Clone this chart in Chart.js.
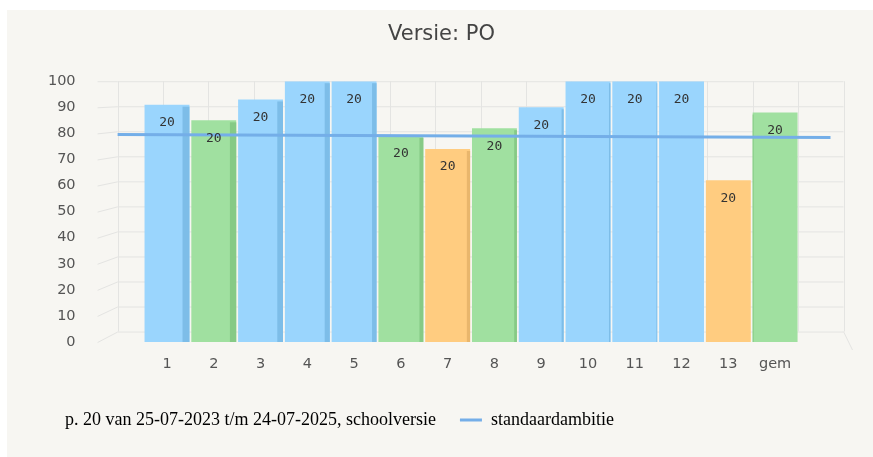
<!DOCTYPE html>
<html>
<head>
<meta charset="utf-8">
<script src="https://cdn.jsdelivr.net/npm/chart.js@4.4.1/dist/chart.umd.min.js"></script>
<style>
  html, body { margin: 0; padding: 0; background: #ffffff; }
  #wrap { width: 873px; height: 457px; }
</style>
</head>
<body>
<div id="wrap"><canvas id="grafiek" width="873" height="457"></canvas></div>
<script>
// ====== DATA ======
const categorieen = ["1", "2", "3", "4", "5", "6", "7", "8", "9", "10", "11", "12", "13", "gem"];
const scores = [91, 85, 93, 100, 100, 79, 74, 82, 90, 100, 100, 100, 62, 88];
const aantallen = [20, 20, 20, 20, 20, 20, 20, 20, 20, 20, 20, 20, 20, 20];
const kleurKlasse = ["blauw", "groen", "blauw", "blauw", "blauw", "groen", "oranje", "groen", "blauw", "blauw", "blauw", "blauw", "oranje", "groen"];
const ambitie = 79;
const legendaTekst = "p. 20 van 25-07-2023 t/m 24-07-2025, schoolversie";
const ambitieTekst = "standaardambitie";

// ====== STIJL ======
const KLEUR = { blauw: "#9ad5fd", groen: "#a0e0a0", oranje: "#ffcc80" };
const ZIJKANT = { blauw: "#7dbde8", groen: "#86ca86", oranje: "#e9b66c" };
const LIJN = "#74aee8";
const RASTER = "#e4e4e2";
const TICKFONT = { family: "DejaVu Sans", size: 14.5 };

// achtergrond van de kaart
const achtergrond = {
  id: "achtergrond",
  beforeDraw(chart) {
    const c = chart.ctx;
    c.save();
    c.fillStyle = "#f7f6f2";
    c.fillRect(7, 10, chart.width - 7, chart.height - 10);
    c.restore();
  }
};

// 3D-achtige wanden achter de staven
const wanden = {
  id: "wanden",
  beforeDatasetsDraw(chart) {
    const c = chart.ctx, ca = chart.chartArea, y = chart.scales.y;
    const wl = ca.left - 26, wr = ca.right + 45;
    const top = y.getPixelForValue(100);
    const wy = v => top + (y.getPixelForValue(v) - top) * 0.96;
    c.save();
    c.strokeStyle = RASTER;
    c.lineWidth = 1;
    c.beginPath();
    for (let v = 0; v <= 100; v += 10) {
      c.moveTo(wl - 20, y.getPixelForValue(v) + 0.5);
      c.lineTo(wl, wy(v) + 0.5);
      c.lineTo(wr, wy(v) + 0.5);
    }
    const n = categorieen.length + 2;
    for (let i = 0; i <= n; i++) {
      const x = Math.round(wl + (wr - wl) * i / n) + 0.5;
      c.moveTo(x, wy(100));
      c.lineTo(x, wy(0));
    }
    c.moveTo(wr, wy(0));
    c.lineTo(wr + 9, y.getPixelForValue(0) + 8);
    c.stroke();
    c.restore();
  }
};

// zijvlakken, aantallen en ambitielijn
const opmaak = {
  id: "opmaak",
  afterDatasetsDraw(chart) {
    const c = chart.ctx, ca = chart.chartArea, y = chart.scales.y;
    const meta = chart.getDatasetMeta(0);
    c.save();
    meta.data.forEach((bar, i) => {
      const w = bar.width, l = bar.x - w / 2, r = bar.x + w / 2;
      const zij = (700 - bar.x) * 0.013;
      c.fillStyle = ZIJKANT[kleurKlasse[i]];
      if (zij > 0.5) c.fillRect(r - zij, bar.y + 2, zij, bar.base - bar.y - 2);
      else if (zij < -0.5) c.fillRect(l, bar.y + 2, -zij, bar.base - bar.y - 2);
    });
    // ambitielijn
    const ya = y.getPixelForValue(ambitie);
    c.strokeStyle = LIJN;
    c.lineWidth = 3;
    c.beginPath();
    c.moveTo(ca.left - 26, ya - 1.5);
    c.lineTo(ca.right + 32, ya + 1.5);
    c.stroke();
    // aantallen
    c.fillStyle = "#333333";
    c.font = '13px "DejaVu Sans Mono"';
    c.textAlign = "center";
    c.textBaseline = "middle";
    meta.data.forEach((bar, i) => {
      c.fillText(String(aantallen[i]), bar.x, bar.y + 18);
    });
    c.restore();
  }
};

new Chart(document.getElementById("grafiek"), {
  type: "bar",
  data: {
    labels: categorieen,
    datasets: [
      {
        label: legendaTekst,
        data: scores,
        backgroundColor: kleurKlasse.map(k => KLEUR[k]),
        borderWidth: 0,
        barPercentage: 0.96,
        categoryPercentage: 1
      },
      {
        type: "line",
        label: ambitieTekst,
        data: categorieen.map(() => ambitie),
        showLine: false,
        pointRadius: 0,
        borderColor: LIJN,
        backgroundColor: LIJN
      }
    ]
  },
  options: {
    responsive: false,
    animation: false,
    layout: { padding: { left: 10, right: 0, top: 0, bottom: 18 } },
    plugins: {
      title: {
        display: true,
        text: "Versie: PO",
        color: "#444444",
        font: { family: "DejaVu Sans", size: 21, weight: "normal" },
        padding: { top: 22, bottom: 34 }
      },
      legend: {
        position: "bottom",
        align: "start",
        labels: {
          color: "#333333",
          font: { family: "Liberation Serif", size: 18 },
          padding: 24,
          usePointStyle: true,
          pointStyleWidth: 22,
          generateLabels() {
            return [
              { text: legendaTekst, fillStyle: "rgba(0,0,0,0)", strokeStyle: "rgba(0,0,0,0)", lineWidth: 0, pointStyle: "circle", datasetIndex: 0 },
              { text: ambitieTekst, fillStyle: LIJN, strokeStyle: LIJN, lineWidth: 3, pointStyle: "line", datasetIndex: 1 }
            ];
          }
        }
      },
      tooltip: { enabled: false }
    },
    scales: {
      x: {
        grid: { display: false, drawTicks: false },
        border: { display: false },
        ticks: { color: "#555555", font: TICKFONT, padding: 14 },
        afterFit(s) { s.height = 45; }
      },
      y: {
        min: 0,
        max: 100,
        grid: { display: false, drawTicks: false },
        border: { display: false },
        ticks: { stepSize: 10, color: "#555555", font: TICKFONT, padding: 68 },
        afterFit(s) { s.width = 133.6; }
      },
      y2: {
        position: "right",
        display: true,
        grid: { display: false, drawTicks: false },
        border: { display: false },
        ticks: { display: false },
        afterFit(s) { s.width = 74.5; }
      }
    }
  },
  plugins: [achtergrond, wanden, opmaak]
});
</script>
</body>
</html>
